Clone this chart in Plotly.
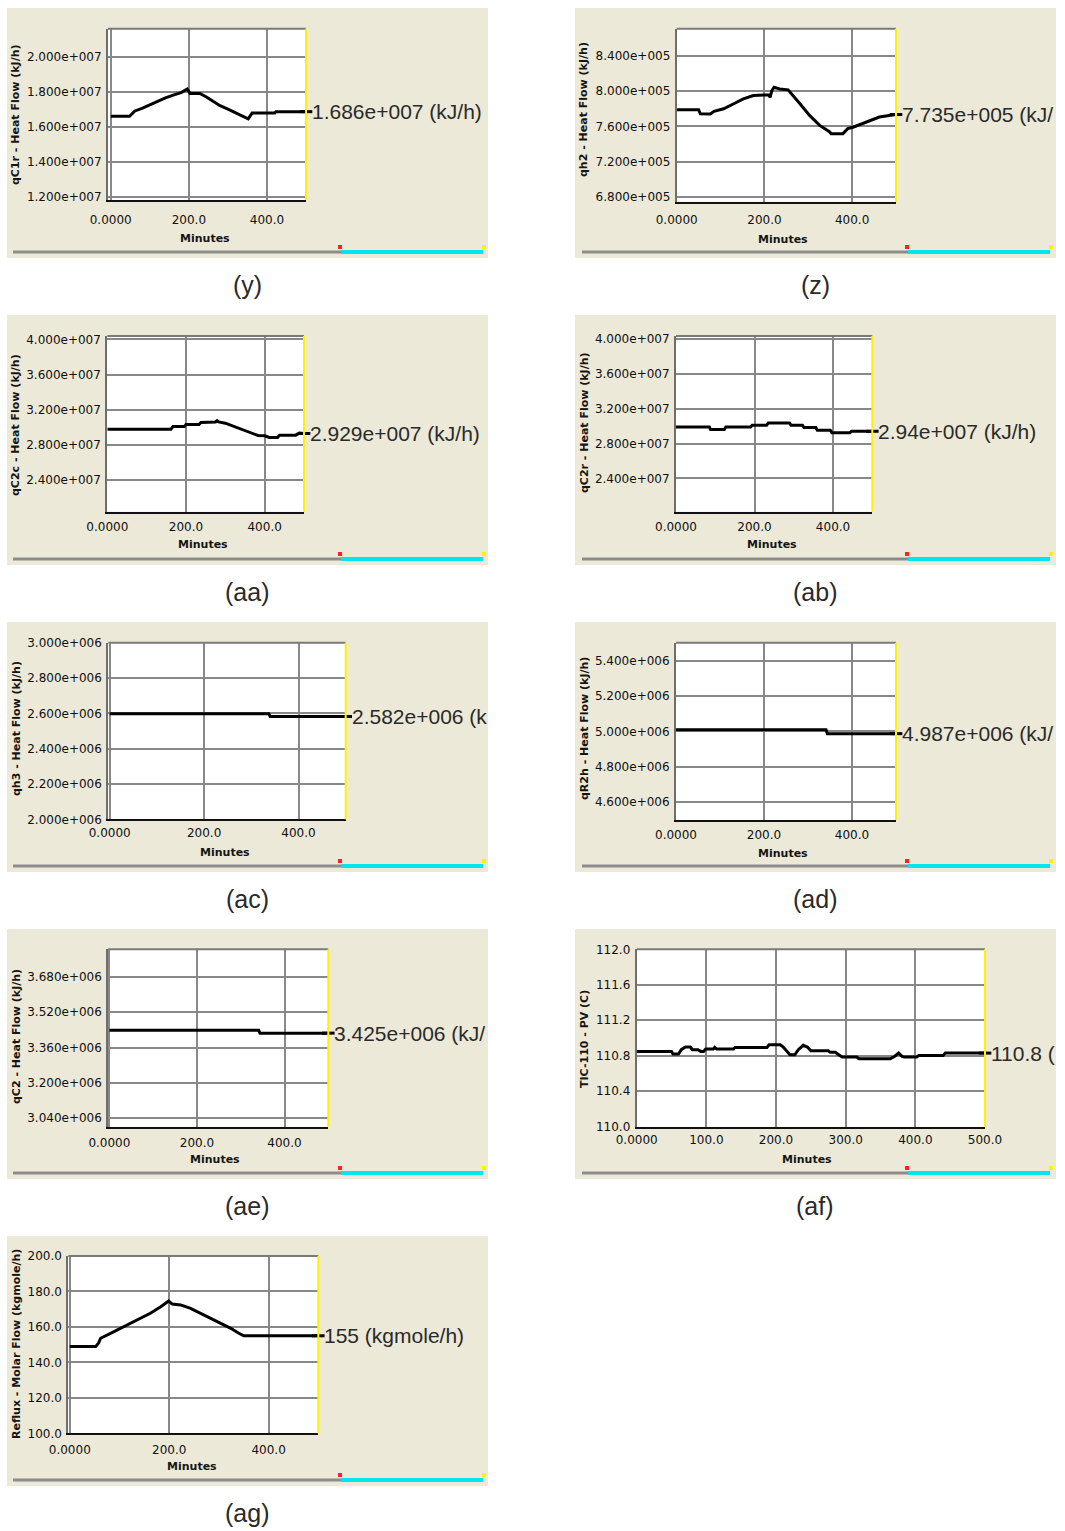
import plotly.graph_objects as go

W, H = 1065, 1531

# ---------------- trend data (time in minutes) ----------------
qc1r_t = [0, 48, 52, 62, 80, 100, 120, 140, 160, 180, 196, 203, 228, 245, 262, 280, 300, 320, 342, 352, 358, 362, 420, 423, 500]
qc1r_v = [1.659e7, 1.659e7, 1.668e7, 1.690e7, 1.705e7, 1.725e7, 1.745e7, 1.765e7, 1.780e7, 1.795e7, 1.815e7, 1.790e7,
          1.790e7, 1.770e7, 1.745e7, 1.720e7, 1.700e7, 1.680e7, 1.655e7, 1.645e7, 1.665e7, 1.678e7, 1.678e7, 1.686e7, 1.686e7]

qh2_t = [0, 50, 54, 77, 85, 107, 130, 152, 175, 198, 210, 213, 217, 222, 235, 254, 262, 281, 303, 326, 349, 352, 379,
         390, 402, 417, 439, 462, 500]
qh2_v = [7.789e5, 7.789e5, 7.743e5, 7.740e5, 7.770e5, 7.800e5, 7.857e5, 7.913e5, 7.950e5, 7.958e5, 7.960e5, 7.930e5,
         8.008e5, 8.045e5, 8.026e5, 8.015e5, 7.970e5, 7.857e5, 7.725e5, 7.611e5, 7.536e5, 7.517e5, 7.517e5, 7.574e5,
         7.590e5, 7.620e5, 7.668e5, 7.706e5, 7.735e5]

qc2c_t = [0, 162, 167, 196, 200, 233, 238, 275, 279, 283, 300, 317, 333, 350, 367, 383, 400, 412, 433, 438, 479, 488, 500]
qc2c_v = [2.978e7, 2.978e7, 3.009e7, 3.009e7, 3.030e7, 3.030e7, 3.054e7, 3.060e7, 3.075e7, 3.060e7, 3.046e7, 3.016e7,
          2.990e7, 2.963e7, 2.933e7, 2.906e7, 2.902e7, 2.883e7, 2.883e7, 2.910e7, 2.910e7, 2.933e7, 2.929e7]

qc2r_t = [0, 85, 88, 123, 127, 190, 194, 231, 235, 289, 293, 322, 326, 356, 360, 393, 397, 443, 447, 500]
qc2r_v = [2.990e7, 2.990e7, 2.960e7, 2.960e7, 2.990e7, 2.990e7, 3.010e7, 3.010e7, 3.036e7, 3.036e7, 3.010e7, 3.010e7,
          2.983e7, 2.983e7, 2.952e7, 2.952e7, 2.922e7, 2.922e7, 2.940e7, 2.940e7]

qh3_t = [0, 337, 340, 500]
qh3_v = [2.598e6, 2.598e6, 2.582e6, 2.582e6]

qr2h_t = [0, 341, 344, 500]
qr2h_v = [5.009e6, 5.009e6, 4.987e6, 4.987e6]

qc2_t = [0, 341, 344, 500]
qc2_v = [3.438e6, 3.438e6, 3.425e6, 3.425e6]

tic_t = [0, 50, 52, 60, 64, 70, 77, 80, 88, 92, 96, 99, 110, 112, 115, 139, 141, 187, 190, 206, 210, 217, 220, 227,
         232, 239, 245, 250, 275, 278, 285, 290, 295, 316, 319, 364, 370, 376, 381, 384, 402, 405, 440, 443, 500]
tic_v = [110.849, 110.849, 110.820, 110.820, 110.868, 110.898, 110.898, 110.868, 110.868, 110.849, 110.849, 110.875,
         110.875, 110.894, 110.875, 110.875, 110.894, 110.894, 110.924, 110.924, 110.900, 110.840, 110.811, 110.811,
         110.868, 110.917, 110.898, 110.856, 110.856, 110.838, 110.838, 110.811, 110.785, 110.785, 110.766, 110.766,
         110.792, 110.830, 110.792, 110.785, 110.785, 110.804, 110.804, 110.830, 110.830]

reflux_t = [0, 52, 58, 62, 82, 102, 122, 142, 162, 183, 199, 206, 223, 243, 263, 283, 303, 324, 340, 350, 500]
reflux_v = [148.9, 148.9, 151.0, 153.6, 156.4, 159.2, 162.0, 164.8, 167.7, 171.4, 174.6, 172.9, 172.4, 170.5, 167.7,
            164.8, 162.0, 159.2, 156.4, 155.0, 155.0]

# ---------------- axis ticks ----------------
minute_ticks = [0, 200, 400]
minute_ticks_fine = [0, 100, 200, 300, 400, 500]
qc1r_ticks = [1.2e7, 1.4e7, 1.6e7, 1.8e7, 2.0e7]
qh2_ticks = [6.8e5, 7.2e5, 7.6e5, 8.0e5, 8.4e5]
qc2c_ticks = [2.4e7, 2.8e7, 3.2e7, 3.6e7, 4.0e7]
qc2r_ticks = [2.4e7, 2.8e7, 3.2e7, 3.6e7, 4.0e7]
qh3_ticks = [2.0e6, 2.2e6, 2.4e6, 2.6e6, 2.8e6, 3.0e6]
qr2h_ticks = [4.6e6, 4.8e6, 5.0e6, 5.2e6, 5.4e6]
qc2_ticks = [3.04e6, 3.20e6, 3.36e6, 3.52e6, 3.68e6]
tic_ticks = [110.0, 110.4, 110.8, 111.2, 111.6, 112.0]
reflux_ticks = [100.0, 120.0, 140.0, 160.0, 180.0, 200.0]


def sci_tick(v):
    m, e = f"{v:.3e}".split("e")
    return f"{m}e{e[0]}{int(e[1:]):03d}"


def dec_tick(v):
    return f"{v:.1f}"


def minute_tick(v):
    return "0.0000" if v == 0 else f"{v:.1f}"


def readout(v):
    if abs(v) >= 1e5:
        m, e = f"{v:.3e}".split("e")
        m = m.rstrip("0").rstrip(".")
        return f"{m}e{e[0]}{int(e[1:]):03d}"
    return f"{v:.4g}"


# geometry in page pixels: plot box (left, right, top, bottom), panel column and row
panels = [
    dict(t=qc1r_t, v=qc1r_v, yt=qc1r_ticks, fmt=sci_tick, xt=minute_ticks, xr=[-7, 500], yr=[1.181e7, 2.16e7],
         box=(108, 306, 28.7, 200), col=0, row=0, ytitle="qC1r - Heat Flow (kJ/h)", yc=115, xc=205, xg=16.7,
         unit="(kJ/h)", cap="(y)"),
    dict(t=qh2_t, v=qh2_v, yt=qh2_ticks, fmt=sci_tick, xt=minute_ticks, xr=[0, 500], yr=[6.743e5, 8.711e5],
         box=(676.7, 896, 28.7, 201.7), col=1, row=0, ytitle="qh2 - Heat Flow (kJ/h)", yc=110, xc=783, xg=15,
         unit="(kJ/", cap="(z)"),
    dict(t=qc2c_t, v=qc2c_v, yt=qc2c_ticks, fmt=sci_tick, xt=minute_ticks, xr=[0, 500], yr=[2.039e7, 4.038e7],
         box=(107.3, 304, 336, 511.7), col=0, row=1, ytitle="qC2c - Heat Flow (kJ/h)", yc=425, xc=203, xg=11.7,
         unit="(kJ/h)", cap="(aa)"),
    dict(t=qc2r_t, v=qc2r_v, yt=qc2r_ticks, fmt=sci_tick, xt=minute_ticks, xr=[0, 500], yr=[2.02e7, 4.03e7],
         box=(676, 872.3, 336, 511.7), col=1, row=1, ytitle="qC2r - Heat Flow (kJ/h)", yc=423, xc=772, xg=11.7,
         unit="(kJ/h)", cap="(ab)"),
    dict(t=qh3_t, v=qh3_v, yt=qh3_ticks, fmt=sci_tick, xt=minute_ticks, xr=[-3, 500], yr=[2.0e6, 3.0e6],
         box=(108.3, 345.7, 642.7, 819.3), col=0, row=2, ytitle="qh3 - Heat Flow (kJ/h)", yc=729, xc=225, xg=10,
         unit="(k", cap="(ac)"),
    dict(t=qr2h_t, v=qr2h_v, yt=qr2h_ticks, fmt=sci_tick, xt=minute_ticks, xr=[0, 500], yr=[4.496e6, 5.504e6],
         box=(676, 896, 642.7, 820), col=1, row=2, ytitle="qR2h - Heat Flow (kJ/h)", yc=729, xc=783, xg=11.7,
         unit="(kJ/", cap="(ad)"),
    dict(t=qc2_t, v=qc2_v, yt=qc2_ticks, fmt=sci_tick, xt=minute_ticks, xr=[-2.5, 500], yr=[3.002e6, 3.804e6],
         box=(108.3, 328.3, 949.3, 1126.7), col=0, row=3, ytitle="qC2 - Heat Flow (kJ/h)", yc=1037, xc=215, xg=13.3,
         unit="(kJ/", cap="(ae)"),
    dict(t=tic_t, v=tic_v, yt=tic_ticks, fmt=dec_tick, xt=minute_ticks_fine, xr=[0, 500], yr=[110.0, 112.0],
         box=(636.7, 985, 949.3, 1126.7), col=1, row=3, ytitle="TIC-110 - PV (C)", yc=1039, xc=807, xg=10,
         unit="(", cap="(af)"),
    dict(t=reflux_t, v=reflux_v, yt=reflux_ticks, fmt=dec_tick, xt=minute_ticks, xr=[-3, 500], yr=[100.0, 200.0],
         box=(68.3, 318.3, 1256, 1433.3), col=0, row=4, ytitle="Reflux - Molar Flow (kgmole/h)", yc=1344, xc=192,
         xg=13, unit="(kgmole/h)", cap="(ag)"),
]

row_tops = [8, 315, 622, 929, 1236]
col_x = [(7, 488), (575, 1056)]
col_title_x = [16, 584]
col_caption_x = [247, 815]
col_bar = [(13, 341, 483), (582, 908, 1050)]

BEIGE = "#ECE9D8"
GRID = "#888888"
TICK_FONT = dict(family="DejaVu Sans", size=12, color="#101010")


def fx(p):
    return p / W


def fy(p):
    return 1 - p / H


fig = go.Figure()
shapes = []
annotations = []

for i, p in enumerate(panels, start=1):
    sfx = "" if i == 1 else str(i)
    xa, ya = f"x{sfx}", f"y{sfx}"
    left, right, top, bottom = p["box"]
    top_row = row_tops[p["row"]]
    x0c, x1c = col_x[p["col"]]

    # window background and white plot box
    shapes.append(dict(type="rect", xref="paper", yref="paper", x0=fx(x0c), x1=fx(x1c),
                       y0=fy(top_row + 250), y1=fy(top_row), fillcolor=BEIGE, line_width=0, layer="below"))
    shapes.append(dict(type="rect", xref="paper", yref="paper", x0=fx(left), x1=fx(right),
                       y0=fy(bottom), y1=fy(top), fillcolor="white", line_width=0, layer="below"))
    # top frame and yellow right marker line
    shapes.append(dict(type="line", xref="paper", yref="paper", x0=fx(left), x1=fx(right),
                       y0=fy(top), y1=fy(top), line=dict(color="#7a7a7a", width=2), layer="above"))
    shapes.append(dict(type="line", xref="paper", yref="paper", x0=fx(right), x1=fx(right),
                       y0=fy(bottom), y1=fy(top), line=dict(color="#FFF200", width=2), layer="above"))

    # scroll bar under each trend
    bx0, bmid, bx1 = col_bar[p["col"]]
    by = top_row + 244
    shapes.append(dict(type="line", xref="paper", yref="paper", x0=fx(bx0), x1=fx(bmid), y0=fy(by), y1=fy(by),
                       line=dict(color="#8c8c8c", width=3)))
    shapes.append(dict(type="line", xref="paper", yref="paper", x0=fx(bmid), x1=fx(bx1), y0=fy(by), y1=fy(by),
                       line=dict(color="#00E6F0", width=4)))
    shapes.append(dict(type="rect", xref="paper", yref="paper", x0=fx(bmid - 3), x1=fx(bmid + 1),
                       y0=fy(by - 3), y1=fy(by - 7), fillcolor="#FF2020", line_width=0))
    shapes.append(dict(type="rect", xref="paper", yref="paper", x0=fx(bx1 - 1), x1=fx(bx1 + 3),
                       y0=fy(by - 3), y1=fy(by - 7), fillcolor="#FFF200", line_width=0))

    fig.add_trace(go.Scatter(x=p["t"], y=p["v"], xaxis=xa, yaxis=ya, mode="lines",
                             line=dict(color="black", width=3), hoverinfo="skip"))
    fig.add_trace(go.Scatter(x=[p["t"][-1]], y=[p["v"][-1]], xaxis=xa, yaxis=ya, mode="markers",
                             marker=dict(symbol="line-ew", size=9, line=dict(color="black", width=3)),
                             cliponaxis=False, hoverinfo="skip"))

    fig.layout[f"xaxis{sfx}"] = dict(
        domain=[fx(left), fx(right)], range=p["xr"], anchor=ya,
        tickmode="array", tickvals=p["xt"], ticktext=[minute_tick(v) for v in p["xt"]],
        ticks="", showgrid=True, gridcolor=GRID, gridwidth=2, zeroline=False,
        showline=True, linecolor="#111111", linewidth=2,
        tickfont=TICK_FONT, ticklabelstandoff=max(0, round(p["xg"] - 9)), fixedrange=True,
        automargin=False,
    )
    fig.layout[f"yaxis{sfx}"] = dict(
        domain=[fy(bottom), fy(top)], range=p["yr"], anchor=xa,
        tickmode="array", tickvals=p["yt"], ticktext=[p["fmt"](v) for v in p["yt"]],
        ticks="", showgrid=True, gridcolor=GRID, gridwidth=2, zeroline=False,
        showline=True, linecolor="#6e6e6e", linewidth=2,
        tickfont=TICK_FONT, ticklabelstandoff=2, fixedrange=True, automargin=False,
    )

    # current value readout at the right edge
    annotations.append(dict(xref=f"{xa} domain", yref=ya, x=1, y=p["v"][-1], xanchor="left", yanchor="middle",
                            xshift=4, showarrow=False, text=f"{readout(p['v'][-1])} {p['unit']}",
                            font=dict(family="Liberation Sans", size=21, color="#2a2a2a")))
    # axis titles
    annotations.append(dict(xref="paper", yref="paper", x=fx(col_title_x[p["col"]]), y=fy(p["yc"]),
                            xanchor="center", yanchor="middle", textangle=-90, showarrow=False,
                            text=p["ytitle"], font=dict(family="DejaVu Sans", size=11, color="#151515",
                                                        weight="bold")))
    annotations.append(dict(xref="paper", yref="paper", x=fx(p["xc"]), y=fy(bottom + 38 if p["row"] == 0 else bottom + 33),
                            xanchor="center", yanchor="middle", showarrow=False, text="Minutes",
                            font=dict(family="DejaVu Sans", size=11, color="#151515", weight="bold")))
    # figure caption
    annotations.append(dict(xref="paper", yref="paper", x=fx(col_caption_x[p["col"]]), y=fy(top_row + 277),
                            xanchor="center", yanchor="middle", showarrow=False, text=p["cap"],
                            font=dict(family="Liberation Sans", size=25, color="#2a2a2a")))

fig.update_layout(
    width=W, height=H, margin=dict(l=0, r=0, t=0, b=0, pad=0, autoexpand=False),
    paper_bgcolor="white", plot_bgcolor="white",
    showlegend=False, shapes=shapes, annotations=annotations,
)

fig.write_html("out.html")
